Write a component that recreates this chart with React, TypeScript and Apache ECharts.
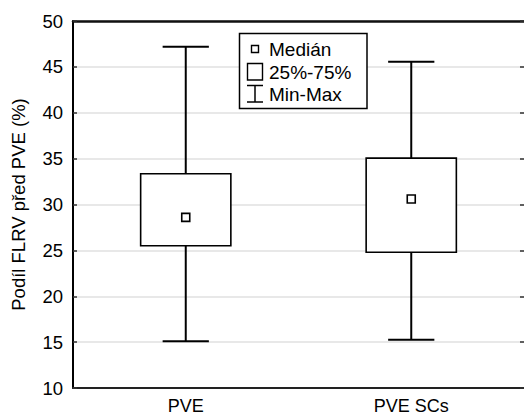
import React, { useEffect, useRef } from "react";
import * as echarts from "echarts";

const categories = ["PVE", "PVE SCs"];
const minValues = [15.1, 15.25];
const q1Values = [25.5, 24.8];
const medianValues = [28.6, 30.6];
const q3Values = [33.35, 35.05];
const maxValues = [47.2, 45.55];
const yMin = 10;
const yMax = 50;
const yInterval = 5;
const yAxisTitle = "Podíl FLRV před PVE (%)";
const legendLabels = ["Medián", "25%-75%", "Min-Max"];

const FONT = "'Liberation Sans', Arial, sans-serif";

export default function App() {
  const ref = useRef<HTMLDivElement>(null);
  useEffect(() => {
    if (!ref.current) return;
    const chart = echarts.init(ref.current, null, { renderer: "svg" });
    const data = categories.map((_, i) => [
      i,
      minValues[i],
      q1Values[i],
      medianValues[i],
      q3Values[i],
      maxValues[i],
    ]);
    const renderItem = (params: any, api: any) => {
      const ci = api.value(0);
      const vMin = api.value(1);
      const vQ1 = api.value(2);
      const vMed = api.value(3);
      const vQ3 = api.value(4);
      const vMax = api.value(5);
      const band = api.size([1, 0])[0];
      const boxW = band * 0.4;
      const capW = band * 0.205;
      const pMin = api.coord([ci, vMin]);
      const pQ1 = api.coord([ci, vQ1]);
      const pMed = api.coord([ci, vMed]);
      const pQ3 = api.coord([ci, vQ3]);
      const pMax = api.coord([ci, vMax]);
      const cx = pMin[0];
      const lineStyle = { stroke: "#000", lineWidth: 2 };
      return {
        type: "group",
        children: [
          { type: "line", shape: { x1: cx, y1: pMax[1], x2: cx, y2: pQ3[1] }, style: lineStyle },
          { type: "line", shape: { x1: cx, y1: pQ1[1], x2: cx, y2: pMin[1] }, style: lineStyle },
          { type: "line", shape: { x1: cx - capW / 2, y1: pMax[1], x2: cx + capW / 2, y2: pMax[1] }, style: lineStyle },
          { type: "line", shape: { x1: cx - capW / 2, y1: pMin[1], x2: cx + capW / 2, y2: pMin[1] }, style: lineStyle },
          {
            type: "rect",
            shape: { x: cx - boxW / 2, y: pQ3[1], width: boxW, height: pQ1[1] - pQ3[1] },
            style: { fill: "#fff", stroke: "#000", lineWidth: 1.6 },
          },
          {
            type: "rect",
            shape: { x: cx - 4, y: pMed[1] - 4, width: 8, height: 8 },
            style: { fill: "#fff", stroke: "#000", lineWidth: 1.6 },
          },
        ],
      };
    };
    const Z = 100;
    const legendElements: any[] = [
      { type: "rect", z: Z, shape: { x: 239.5, y: 33.5, width: 127.5, height: 75 }, style: { fill: "#fff", stroke: "#000", lineWidth: 1.5 } },
      { type: "rect", z: Z + 1, shape: { x: 251.5, y: 45.5, width: 7, height: 7 }, style: { fill: "#fff", stroke: "#000", lineWidth: 1.4 } },
      { type: "rect", z: Z + 1, shape: { x: 247.5, y: 63.5, width: 15, height: 16.5 }, style: { fill: "#fff", stroke: "#000", lineWidth: 1.4 } },
      { type: "line", z: Z + 1, shape: { x1: 247, y1: 85.5, x2: 263, y2: 85.5 }, style: { stroke: "#000", lineWidth: 1.5 } },
      { type: "line", z: Z + 1, shape: { x1: 247, y1: 102, x2: 263, y2: 102 }, style: { stroke: "#000", lineWidth: 1.5 } },
      { type: "line", z: Z + 1, shape: { x1: 255, y1: 85.5, x2: 255, y2: 102 }, style: { stroke: "#000", lineWidth: 1.5 } },
      ...legendLabels.map((t, i) => ({
        type: "text",
        z: Z + 1,
        x: 269,
        y: 49.5 + i * 22.5,
        style: { text: t, fill: "#000", font: `19px ${FONT}`, verticalAlign: "middle" },
      })),
    ];
    chart.setOption({
      animation: false,
      backgroundColor: "#fff",
      grid: { left: 73, right: 0, top: 21, bottom: 30 },
      xAxis: [
        {
          type: "category",
          data: categories,
          position: "bottom",
          axisLine: { lineStyle: { color: "#222", width: 2 } },
          axisTick: { inside: true, alignWithLabel: true, length: 5, lineStyle: { color: "#222", width: 1.5 } },
          axisLabel: { color: "#000", fontSize: 18, fontFamily: FONT, margin: 9 },
        },
        {
          type: "category",
          data: categories,
          position: "top",
          axisLine: { lineStyle: { color: "#111", width: 2.5 } },
          axisTick: { inside: true, alignWithLabel: true, length: 5, lineStyle: { color: "#333", width: 1.5 } },
          axisLabel: { show: false },
        },
      ],
      yAxis: [
        {
          type: "value",
          min: yMin,
          max: yMax,
          interval: yInterval,
          position: "left",
          name: yAxisTitle,
          nameLocation: "middle",
          nameGap: 45,
          nameTextStyle: { color: "#000", fontSize: 18.5, fontFamily: FONT },
          axisLine: { show: true, lineStyle: { color: "#000", width: 2 } },
          axisTick: { show: true, inside: true, length: 4, lineStyle: { color: "#333", width: 1.5 } },
          axisLabel: { color: "#000", fontSize: 18.5, fontFamily: FONT, margin: 10 },
          splitLine: { show: true, lineStyle: { color: "#e0e0e0", width: 1.5 } },
        },
        {
          type: "value",
          min: yMin,
          max: yMax,
          interval: yInterval,
          position: "right",
          axisLine: { show: false },
          axisTick: { show: true, inside: true, length: 4, lineStyle: { color: "#333", width: 1.5 } },
          axisLabel: { show: false },
          splitLine: { show: false },
        },
      ],
      graphic: { elements: legendElements },
      series: [
        {
          type: "custom",
          xAxisIndex: 0,
          yAxisIndex: 0,
          renderItem,
          data,
          encode: { x: 0, y: [1, 2, 3, 4, 5] },
          z: 10,
        },
      ],
    });
    return () => chart.dispose();
  }, []);
  return (
    <div
      ref={ref}
      style={{ position: "absolute", left: 0, top: 0, width: 524, height: 418 }}
    />
  );
}
